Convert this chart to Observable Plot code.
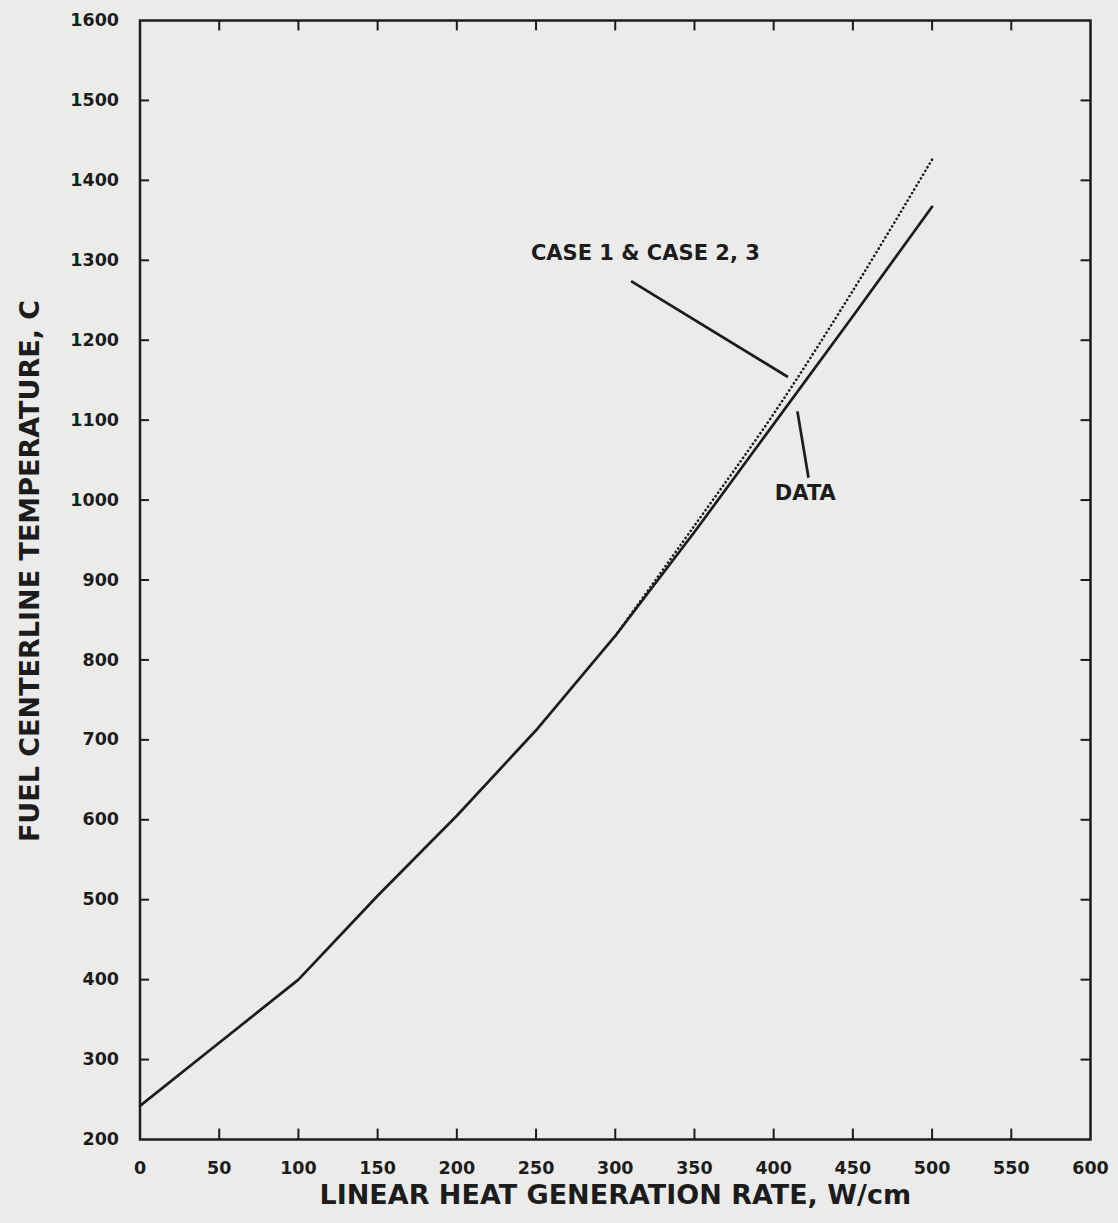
<!DOCTYPE html>
<html>
<head>
<meta charset="utf-8">
<script src="https://cdn.jsdelivr.net/npm/d3@7"></script>
<script src="https://cdn.jsdelivr.net/npm/@observablehq/plot@0.6"></script>
<style>
  html, body { margin: 0; padding: 0; background: #ebebea; }
  #chart svg { display: block; background: #ebebea; }
</style>
</head>
<body>
<div id="chart"></div>
<script>
// Measured series (W/cm, °C)
const dataX = [0, 50, 100, 150, 200, 250, 300, 350, 400, 450, 500];
const dataY = [242, 321, 400, 505, 605, 712, 830, 960, 1095, 1230, 1367];
const caseX = [300, 350, 400, 450, 500];
const caseY = [830, 968, 1108, 1262, 1426];

const xTicks = [0, 50, 100, 150, 200, 250, 300, 350, 400, 450, 500, 550, 600];
const yTicks = [200, 300, 400, 500, 600, 700, 800, 900, 1000, 1100, 1200, 1300, 1400, 1500, 1600];

const xLabel = "LINEAR HEAT GENERATION RATE, W/cm";
const yLabel = "FUEL CENTERLINE TEMPERATURE, C";

// annotations
const annoText = ["CASE 1 & CASE 2, 3", "DATA"];
const annoTextX = [319, 420];
const annoTextY = [1309, 1009];
const leaderX1 = [310, 415];
const leaderY1 = [1274, 1111];
const leaderX2 = [409, 422];
const leaderY2 = [1154, 1028];

const dataRows = dataX.map((x, i) => ({x, y: dataY[i]}));
const caseRows = caseX.map((x, i) => ({x, y: caseY[i]}));
const annoRows = annoText.map((t, i) => ({t, x: annoTextX[i], y: annoTextY[i]}));
const leaderRows = leaderX1.map((x1, i) => ({x1, y1: leaderY1[i], x2: leaderX2[i], y2: leaderY2[i]}));

const ink = "#1c1c1c";
const font = "'DejaVu Sans', sans-serif";

const chart = Plot.plot({
  width: 1118,
  height: 1223,
  marginLeft: 139.5,
  marginRight: 28,
  marginTop: 20,
  marginBottom: 84,
  style: {fontFamily: font, fontWeight: "bold", color: ink, background: "#ebebea"},
  x: {domain: [0, 600]},
  y: {domain: [200, 1600]},
  marks: [
    Plot.frame({stroke: ink, strokeWidth: 2.5}),
    // inward ticks
    Plot.ruleX(xTicks.slice(1, -1), {x: d => d, y1: 200, y2: 213, stroke: ink, strokeWidth: 2}),
    Plot.ruleX(xTicks.slice(1, -1), {x: d => d, y1: 1600, y2: 1587, stroke: ink, strokeWidth: 2}),
    Plot.ruleY(yTicks.slice(1, -1), {y: d => d, x1: 0, x2: 6, stroke: ink, strokeWidth: 2}),
    Plot.ruleY(yTicks.slice(1, -1), {y: d => d, x1: 600, x2: 594, stroke: ink, strokeWidth: 2}),
    Plot.axisX(xTicks, {tickSize: 0, tickPadding: 22, tickFormat: d3.format("d"), fontSize: 17.5, fontWeight: "bold", label: null, fill: ink}),
    Plot.axisY(yTicks, {tickSize: 0, tickPadding: 21, tickFormat: d3.format("d"), fontSize: 17.5, fontWeight: "bold", label: null, fill: ink}),
    Plot.text([xLabel], {frameAnchor: "bottom", dy: 64, fontSize: 27, fontWeight: "bold", fill: ink}),
    Plot.text([yLabel], {frameAnchor: "left", textAnchor: "middle", dx: -110, dy: -9, rotate: -90, fontSize: 27, fontWeight: "bold", fill: ink}),
    Plot.line(caseRows, {x: "x", y: "y", curve: "catmull-rom", stroke: ink, strokeWidth: 2.6, strokeDasharray: "0.1,4.2", strokeLinecap: "round"}),
    Plot.line(dataRows, {x: "x", y: "y", stroke: ink, strokeWidth: 2.7}),
    Plot.link(leaderRows, {x1: "x1", y1: "y1", x2: "x2", y2: "y2", stroke: ink, strokeWidth: 2.7}),
    Plot.text(annoRows, {x: "x", y: "y", text: "t", fontSize: 21, fontWeight: "bold", fill: ink})
  ]
});
document.getElementById("chart").appendChild(chart);
</script>
</body>
</html>
